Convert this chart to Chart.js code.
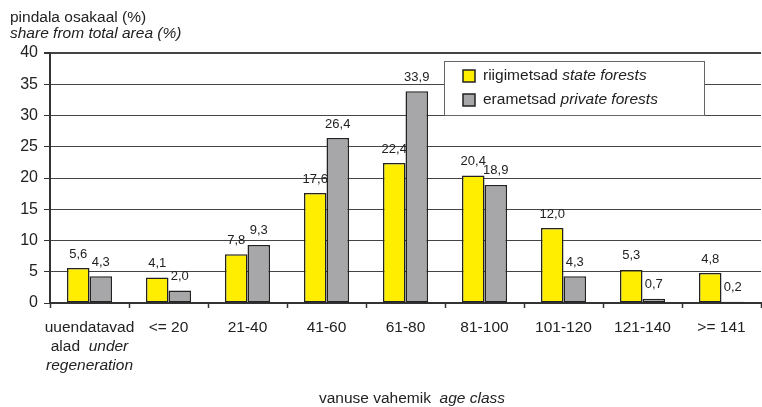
<!DOCTYPE html>
<html>
<head>
<meta charset="utf-8">
<script src="https://cdn.jsdelivr.net/npm/chart.js@4.4.1/dist/chart.umd.min.js"></script>
<style>
    body { margin: 0; background: #fff; }
    #wrap { width: 762px; height: 407px; }
</style>
</head>
<body>
<div id="wrap"><canvas id="ageChart" width="762" height="407"></canvas></div>
<script>
// categories (age classes): [normal text lines, with optional italic parts]
const categories = ['uuendatavad', '<= 20', '21-40', '41-60', '61-80', '81-100', '101-120', '121-140', '>= 141'];
const categoryLines = [
    [[['uuendatavad', false]], [['alad  ', false], ['under', true]], [['regeneration', true]]],
    [[['<= 20', false]]],
    [[['21-40', false]]],
    [[['41-60', false]]],
    [[['61-80', false]]],
    [[['81-100', false]]],
    [[['101-120', false]]],
    [[['121-140', false]]],
    [[['>= 141', false]]]
];
const stateForests = [5.6, 4.1, 7.8, 17.6, 22.4, 20.4, 12.0, 5.3, 4.8];
const privateForests = [4.3, 2.0, 9.3, 26.4, 33.9, 18.9, 4.3, 0.7, 0.2];
const yTicks = [0, 5, 10, 15, 20, 25, 30, 35, 40];

const FONT = "'Liberation Sans', Arial, sans-serif";
const YELLOW = '#ffee00';
const GREY = '#a7a7aa';

function drawMixed(ctx, parts, x, y, size, align) {
    // measure whole line first so it can be centred
    let total = 0;
    parts.forEach(([txt, it]) => {
        ctx.font = `${it ? 'italic ' : ''}${size}px ${FONT}`;
        total += ctx.measureText(txt).width;
    });
    let cx = align === 'center' ? x - total / 2 : x;
    ctx.textAlign = 'left';
    ctx.textBaseline = 'middle';
    parts.forEach(([txt, it]) => {
        ctx.font = `${it ? 'italic ' : ''}${size}px ${FONT}`;
        ctx.fillText(txt, cx, y);
        cx += ctx.measureText(txt).width;
    });
}

const decorations = {
    id: 'decorations',
    afterDatasetsDraw(chart) {
        const ctx = chart.ctx;
        ctx.save();
        ctx.fillStyle = '#222';

        // value labels above the bars
        ctx.font = `13px ${FONT}`;
        ctx.textAlign = 'center';
        ctx.textBaseline = 'middle';
        chart.data.datasets.forEach((ds, i) => {
            chart.getDatasetMeta(i).data.forEach((bar, j) => {
                ctx.fillText(ds.data[j].toFixed(1).replace('.', ','), bar.x, bar.y - 14);
            });
        });

        // category labels
        const xs = chart.scales.x;
        categoryLines.forEach((lines, j) => {
            const cx = xs.getPixelForValue(j);
            lines.forEach((parts, k) => {
                drawMixed(ctx, parts, cx, 328 + k * 19, 15.5, 'center');
            });
        });

        // axis titles
        drawMixed(ctx, [['pindala osakaal (%)', false]], 10, 18, 15.5, 'left');
        drawMixed(ctx, [['share from total area (%)', true]], 10, 34, 15.5, 'left');
        drawMixed(ctx, [['vanuse vahemik  ', false], ['age class', true]], 412, 399, 15.5, 'center');

        // legend box
        ctx.fillStyle = '#fff';
        ctx.fillRect(444, 61, 260, 54);
        ctx.strokeStyle = '#666';
        ctx.lineWidth = 1;
        ctx.strokeRect(444.5, 61.5, 260, 54);
        const items = [
            [YELLOW, [['riigimetsad ', false], ['state forests', true]], 76],
            [GREY, [['erametsad ', false], ['private forests', true]], 100]
        ];
        items.forEach(([col, parts, y]) => {
            ctx.fillStyle = col;
            ctx.fillRect(463, y - 6, 12, 12);
            ctx.strokeStyle = '#222';
            ctx.lineWidth = 1.5;
            ctx.strokeRect(463, y - 6, 12, 12);
            ctx.fillStyle = '#222';
            drawMixed(ctx, parts, 483, y, 15.5, 'left');
        });
        ctx.restore();
    }
};

new Chart(document.getElementById('ageChart').getContext('2d'), {
    type: 'bar',
    data: {
        labels: categories,
        datasets: [
            {
                label: 'riigimetsad state forests',
                data: stateForests,
                backgroundColor: YELLOW,
                borderColor: '#222',
                borderWidth: 1.5,
                borderSkipped: false
            },
            {
                label: 'erametsad private forests',
                data: privateForests,
                backgroundColor: GREY,
                borderColor: '#222',
                borderWidth: 1.5,
                borderSkipped: false
            }
        ]
    },
    options: {
        responsive: false,
        animation: false,
        layout: { padding: { top: 53, right: 1, left: 0, bottom: 0 } },
        datasets: { bar: { categoryPercentage: 0.57, barPercentage: 1 } },
        plugins: {
            legend: { display: false },
            tooltip: { enabled: false }
        },
        scales: {
            x: {
                afterFit: scale => { scale.height = 104; },
                ticks: { display: false },
                grid: {
                    offset: true,
                    drawOnChartArea: false,
                    drawTicks: true,
                    tickLength: 5,
                    tickColor: '#333',
                    tickWidth: 1.5
                },
                border: { color: '#333', width: 2 }
            },
            y: {
                min: 0,
                max: 40,
                afterFit: scale => { scale.width = 50; },
                afterBuildTicks: scale => { scale.ticks = yTicks.map(v => ({ value: v })); },
                ticks: {
                    color: '#222',
                    padding: 6,
                    font: { family: FONT, size: 16 }
                },
                grid: {
                    color: '#444',
                    lineWidth: c => (c.tick && c.tick.value === 40 ? 2 : 1),
                    tickLength: 6,
                    tickColor: '#333'
                },
                border: { color: '#333', width: 2 }
            }
        }
    },
    plugins: [decorations]
});
</script>
</body>
</html>
